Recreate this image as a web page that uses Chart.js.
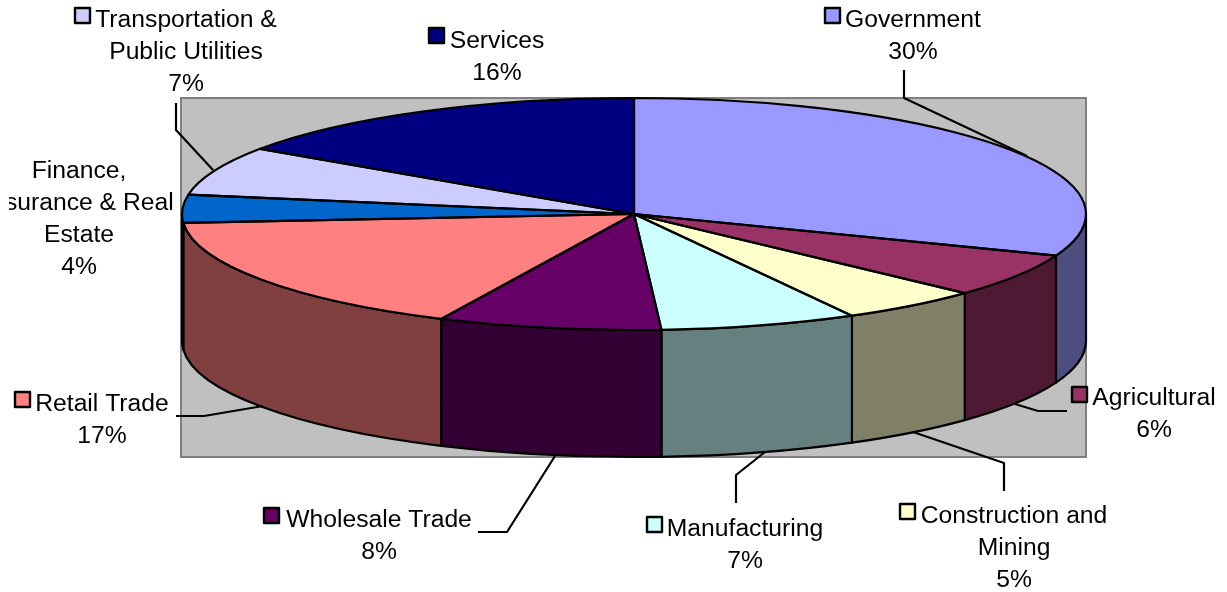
<!DOCTYPE html>
<html>
<head>
<meta charset="utf-8">
<title>Employment by sector</title>
<script src="https://cdn.jsdelivr.net/npm/chart.js@4.4.0/dist/chart.umd.min.js"></script>
<style>
    html, body { margin: 0; padding: 0; background: #fff; }
    canvas { display: block; }
</style>
</head>
<body>
<canvas id="setores" width="1227" height="592"></canvas>
<script>
const categories = ['Government', 'Agricultural', 'Construction and Mining', 'Manufacturing', 'Wholesale Trade',
    'Retail Trade', 'Finance, Insurance & Real Estate', 'Transportation & Public Utilities', 'Services'];
const shares = [30, 6, 5, 7, 8, 17, 4, 7, 16];

// how each name wraps above its percentage
const nameLines = [
    ['Government'],
    ['Agricultural'],
    ['Construction and', 'Mining'],
    ['Manufacturing'],
    ['Wholesale Trade'],
    ['Retail Trade'],
    ['Finance,', 'Insurance & Real', 'Estate'],
    ['Transportation &', 'Public Utilities'],
    ['Services']
];

const topColors = ['#9999FF', '#993366', '#FFFFCC', '#CCFFFF', '#660066', '#FF8080', '#0066CC', '#CCCCFF', '#000080'];
const wallColors = ['#4D4D80', '#4D1933', '#808066', '#668080', '#330033', '#804040', '#003366', '#666680', '#000040'];

// text centre, first baseline and legend square for each label
const labelSpots = [
    { cx: 913, base: 27, boxX: 825, boxY: 8 },
    { cx: 1154, base: 405, boxX: 1072, boxY: 387 },
    { cx: 1014, base: 523, boxX: 900, boxY: 504 },
    { cx: 745, base: 536, boxX: 647, boxY: 517 },
    { cx: 379, base: 527, boxX: 264, boxY: 508 },
    { cx: 102, base: 411, boxX: 15, boxY: 392 },
    { cx: 79, base: 178, boxX: -36, boxY: 191, clipX: 9 },
    { cx: 186, base: 27, boxX: 75, boxY: 8 },
    { cx: 497, base: 48, boxX: 429, boxY: 28 }
];

// leader lines from label to pie edge
const leaders = [
    [[904, 70], [904, 98], [1027, 156]],
    [[1067, 411], [1038, 411], [1015, 404]],
    [[1004, 491], [1004, 463], [913, 432]],
    [[736, 503], [736, 475], [765, 452]],
    [[478, 532], [507, 532], [555, 456]],
    [[176, 416], [204, 416], [263, 406]],
    [[176, 103], [176, 130], [213, 170]]
];

const RX = 452;
const RY = 116;
const DEPTH = 127;
const LINE_H = 32;
const TILT = 0.065; // radians, how far the camera tilt drags the far side of the disc
const LINE_W = 2.2;

function arcsOf(chart) {
    return chart.getDatasetMeta(0).data;
}

// angle as seen on the tilted disc: unchanged at 12 o'clock, biggest at 6 o'clock
function tilted(a) {
    return a + TILT * Math.sin((a + Math.PI / 2) / 2);
}

function drawBackdrop(ctx) {
    ctx.fillStyle = '#C0C0C0';
    ctx.fillRect(181, 98, 905, 359);
    ctx.strokeStyle = '#808080';
    ctx.lineWidth = 2;
    ctx.strokeRect(181, 98, 905, 359);
}

// side of the disc, only the part facing the viewer
function drawWalls(ctx, chart) {
    arcsOf(chart).forEach((arc, i) => {
        const from = Math.max(arc.startAngle, 0);
        const to = Math.min(arc.endAngle, Math.PI);
        if (to <= from) return;
        ctx.beginPath();
        ctx.ellipse(arc.x, arc.y, RX, RY, 0, from, to);
        ctx.ellipse(arc.x, arc.y + DEPTH, RX, RY, 0, to, from, true);
        ctx.closePath();
        ctx.fillStyle = wallColors[i];
        ctx.fill();
        ctx.strokeStyle = '#000';
        ctx.lineWidth = LINE_W;
        ctx.lineJoin = 'round';
        ctx.stroke();
    });
}

// stroked here and not by the arcs, the squash would make the line uneven
function drawOutlines(ctx, chart) {
    ctx.strokeStyle = '#000';
    ctx.lineWidth = LINE_W;
    ctx.lineJoin = 'round';
    arcsOf(chart).forEach(arc => {
        ctx.beginPath();
        ctx.moveTo(arc.x, arc.y);
        ctx.ellipse(arc.x, arc.y, RX, RY, 0, arc.startAngle, arc.endAngle);
        ctx.closePath();
        ctx.stroke();
    });
}

function drawLeaders(ctx) {
    ctx.strokeStyle = '#000';
    ctx.lineWidth = LINE_W;
    leaders.forEach(pts => {
        ctx.beginPath();
        pts.forEach((p, i) => i ? ctx.lineTo(p[0], p[1]) : ctx.moveTo(p[0], p[1]));
        ctx.stroke();
    });
}

function drawLabels(ctx) {
    ctx.font = '24.7px "Liberation Sans", Arial, sans-serif';
    ctx.textAlign = 'center';
    ctx.textBaseline = 'alphabetic';
    labelSpots.forEach((spot, i) => {
        ctx.save();
        if (spot.clipX) {
            ctx.beginPath();
            ctx.rect(spot.clipX, 0, 1227, 592);
            ctx.clip();
        }
        ctx.fillStyle = topColors[i];
        ctx.strokeStyle = '#000';
        ctx.lineWidth = 2.4;
        ctx.lineJoin = 'round';
        ctx.fillRect(spot.boxX, spot.boxY, 15, 15);
        ctx.strokeRect(spot.boxX, spot.boxY, 15, 15);
        ctx.fillStyle = '#000';
        const lines = nameLines[i].concat(shares[i] + '%');
        lines.forEach((txt, n) => ctx.fillText(txt, spot.cx, spot.base + n * LINE_H));
        ctx.restore();
    });
}

const disco3d = {
    id: 'disco3d',
    afterDatasetsUpdate(chart) {
        arcsOf(chart).forEach(arc => {
            arc.startAngle = tilted(arc.startAngle);
            arc.endAngle = tilted(arc.endAngle);
            arc.circumference = arc.endAngle - arc.startAngle;
        });
    },
    beforeDatasetsDraw(chart) {
        const ctx = chart.ctx;
        const arc = arcsOf(chart)[0];
        drawBackdrop(ctx);
        drawWalls(ctx, chart);
        // squash the round pie into the top face
        ctx.save();
        ctx.translate(arc.x, arc.y);
        ctx.scale(RX / arc.outerRadius, RY / arc.outerRadius);
        ctx.translate(-arc.x, -arc.y);
    },
    afterDatasetsDraw(chart) {
        const ctx = chart.ctx;
        ctx.restore();
        drawOutlines(ctx, chart);
        drawLeaders(ctx);
        drawLabels(ctx);
    }
};

new Chart(document.getElementById('setores'), {
    type: 'pie',
    data: {
        labels: categories,
        datasets: [{
            data: shares,
            backgroundColor: topColors,
            borderWidth: 0,
            clip: false
        }]
    },
    options: {
        responsive: false,
        animation: false,
        events: [],
        layout: { padding: { left: 41, bottom: 164 } },
        plugins: {
            legend: { display: false },
            tooltip: { enabled: false }
        }
    },
    plugins: [disco3d]
});
</script>
</body>
</html>
